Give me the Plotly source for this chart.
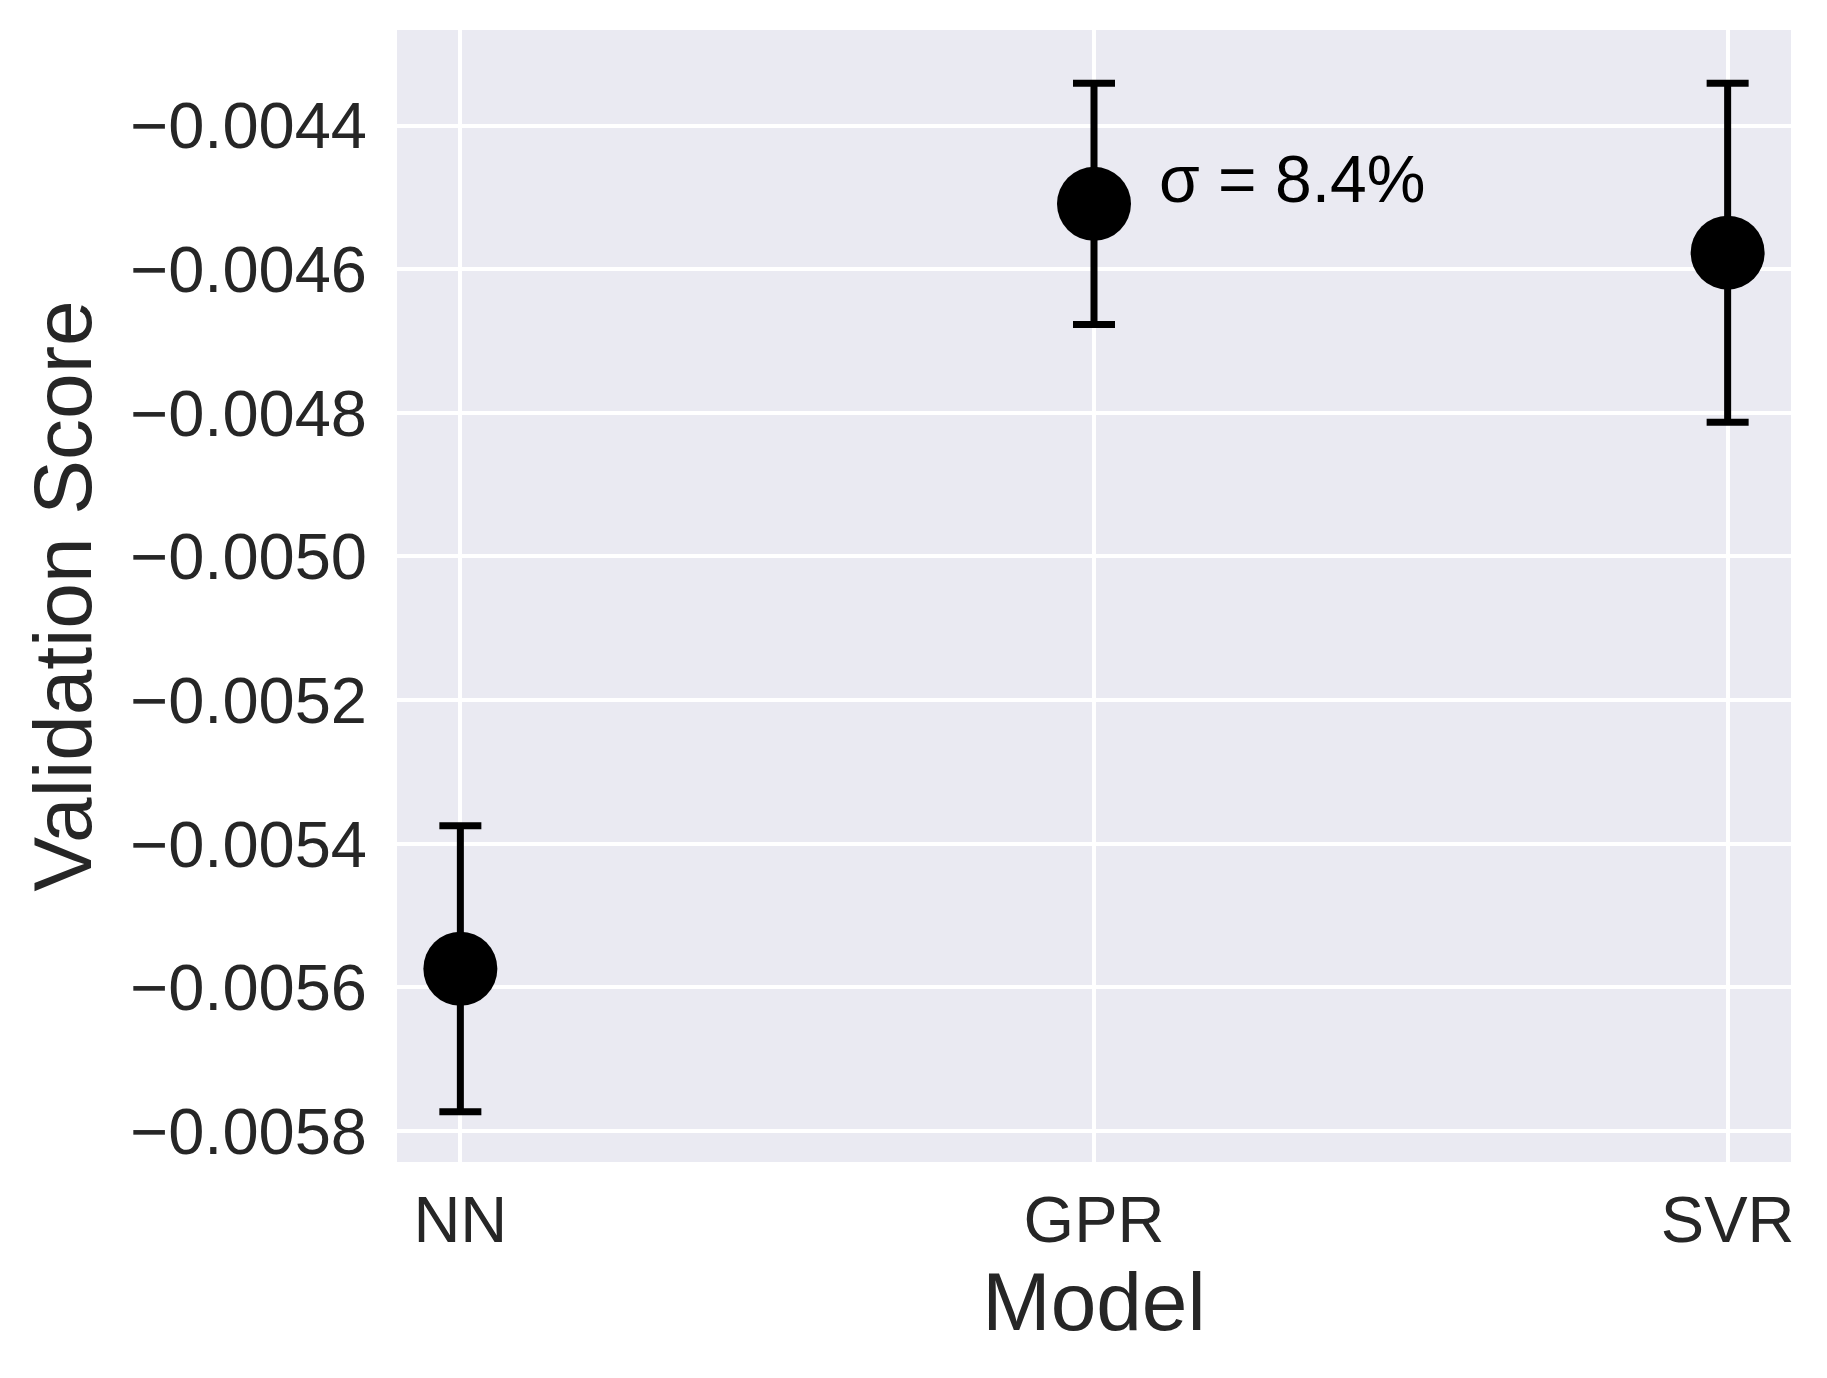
import plotly.graph_objects as go

# model validation scores (mean and std)
models = ["NN", "GPR", "SVR"]
scores = [-0.005574, -0.004509, -0.004577]
errors = [0.000199, 0.000168, 0.000236]

ytick_vals = [-0.0044, -0.0046, -0.0048, -0.0050, -0.0052, -0.0054, -0.0056, -0.0058]
ytick_text = ["\u22120.0044", "\u22120.0046", "\u22120.0048", "\u22120.0050",
              "\u22120.0052", "\u22120.0054", "\u22120.0056", "\u22120.0058"]

note_text = "\u03c3 = 8.4%"

fig = go.Figure()

fig.add_trace(go.Scatter(
    x=list(range(len(models))), y=scores,
    mode="markers",
    marker=dict(color="black", size=74),
    error_y=dict(type="data", array=errors, color="black",
                 thickness=7, width=21),
    showlegend=False))

# sigma label next to GPR
fig.add_annotation(x=1.1, y=scores[1], text=note_text, showarrow=False,
                   xanchor="left", yanchor="bottom", yshift=-14,
                   font=dict(size=66, color="black"))

# page body has an 8px margin, so the figure is a bit smaller than the window
fig.update_layout(
    width=1819, height=1370,
    margin=dict(l=389, r=36, t=22, b=216),
    paper_bgcolor="white",
    plot_bgcolor="#EAEAF2",
    font=dict(family="Liberation Sans", color="#262626"),
    xaxis=dict(
        range=[-0.1, 2.1],
        tickvals=list(range(len(models))), ticktext=models,
        tickfont=dict(size=65),
        ticks="outside", ticklen=1, tickcolor="rgba(0,0,0,0)",
        showgrid=True, gridcolor="white", gridwidth=4,
        zeroline=False, showline=False,
        title=dict(text="Model", font=dict(size=82), standoff=14)),
    yaxis=dict(
        range=[-0.005843, -0.004267],
        tickvals=ytick_vals, ticktext=ytick_text,
        tickfont=dict(size=65),
        ticks="outside", ticklen=16, tickcolor="rgba(0,0,0,0)",
        showgrid=True, gridcolor="white", gridwidth=4,
        zeroline=False, showline=False,
        title=dict(text="Validation Score", font=dict(size=82), standoff=11)),
)

fig.write_html("out.html")
